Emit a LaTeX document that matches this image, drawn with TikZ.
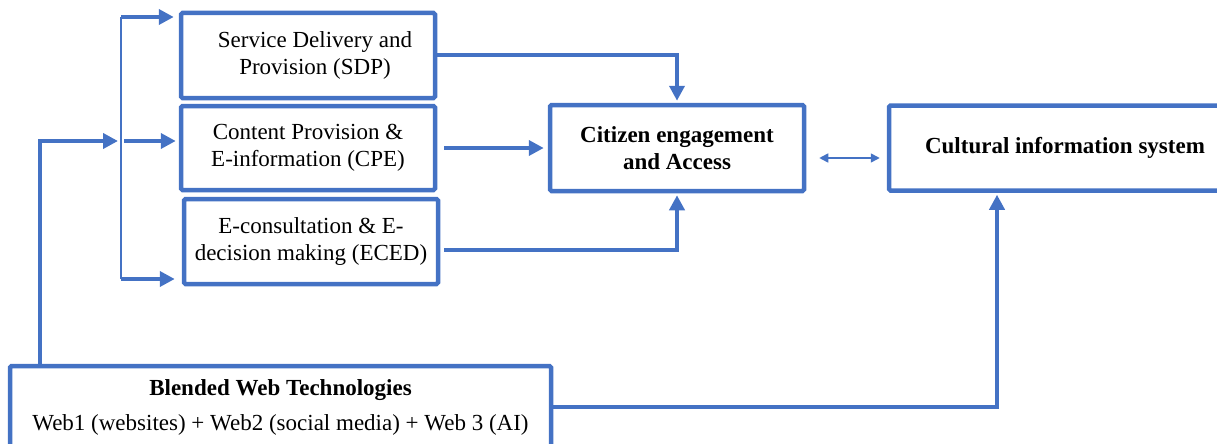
\documentclass[tikz,border=0pt]{standalone}
\usepackage{fontspec}
\setmainfont{Liberation Serif}
\usetikzlibrary{arrows.meta}
\definecolor{wordblue}{RGB}{68,114,196}
\tikzset{
  box/.style={draw=wordblue, line width=4.5pt, rounded corners=1.5pt, align=center, inner sep=0pt, font=\fontsize{23}{27}\selectfont},
  conn/.style={draw=wordblue, line width=4pt, -{Triangle[length=15pt,width=15pt]}},
  bar/.style={draw=wordblue, line width=2.5pt},
  twoway/.style={draw=wordblue, line width=1.5pt, {Triangle[length=9pt,width=9pt]}-{Triangle[length=9pt,width=9pt]}}
}

\begin{document}
\begin{tikzpicture}[x=1pt,y=-1pt]
\useasboundingbox (0,0) rectangle (1217,444);
% the three services
\node[box, minimum width=254pt, minimum height=85pt] (sdp) at (308,55.5) {\hspace*{14pt}Service Delivery and\\\hspace*{14pt}Provision (SDP)};
\node[box, minimum width=254pt, minimum height=84pt] (cpe) at (308,148) {Content Provision \&\\E-information (CPE)};
\node[box, minimum width=254pt, minimum height=85pt] (eced) at (311,241.5) {E-consultation \& E-\\decision making (ECED)};
\node[box, minimum width=254pt, minimum height=86pt] (cit) at (677,148) {\textbf{Citizen engagement}\\\textbf{and Access}};
\node[box, minimum width=352pt, minimum height=85pt] (cis) at (1065,148) {\textbf{Cultural information system}};
\node[box, minimum width=541pt, minimum height=82pt] (bwt) at (280.5,407) {\textbf{Blended Web Technologies}\\[8pt]Web1 (websites) + Web2 (social media) + Web 3 (AI)};
% bracket feeding the services
\coordinate (ktop) at (121,17);
\coordinate (kmid) at (121,141);
\coordinate (kbot) at (121,279);
\draw[bar] (ktop) -- (kbot);
\draw[conn, shorten >=5pt] (ktop) -- (ktop -| sdp.west);
\draw[conn, shorten >=3pt] ([xshift=3pt]kmid) -- (kmid -| cpe.west);
\draw[conn, shorten >=7pt] (kbot) -- (kbot -| eced.west);
\draw[conn, shorten >=3pt] ([xshift=32pt]bwt.north west) |- (kmid);
% into citizen engagement
\draw[conn, shorten >=2pt] (sdp.east) -| (cit.north);
\draw[conn, shorten >=4pt] ([xshift=7pt]cpe.east) -- (cit.west);
\draw[conn, shorten >=2pt] ([shift={(4pt,-8pt)}]eced.east) -| (cit.south);
\draw[twoway] ([shift={(13pt,-10pt)}]cit.east) -- ([shift={(-7pt,-10pt)}]cis.west);
\draw[conn, shorten >=2pt] (bwt.east) -| ([xshift=-68pt]cis.south);
\end{tikzpicture}
\end{document}
